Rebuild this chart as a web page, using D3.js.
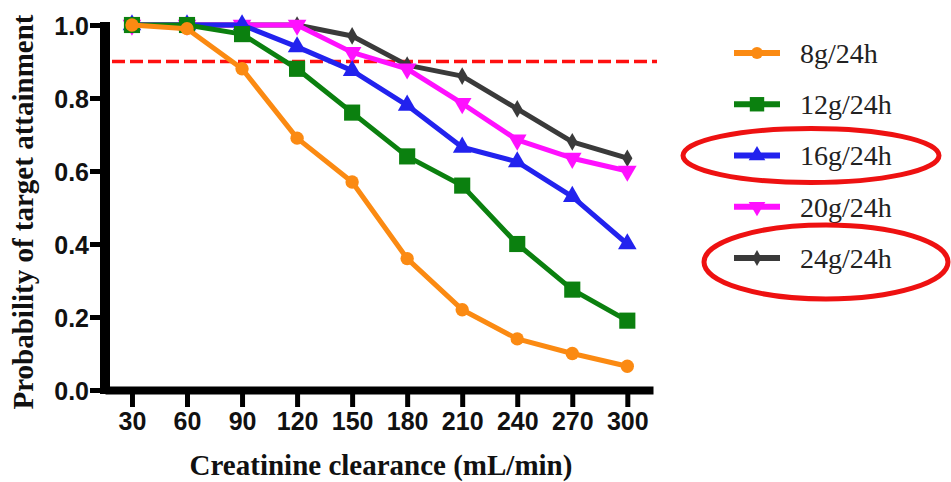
<!DOCTYPE html>
<html>
<head>
<meta charset="utf-8">
<script src="https://cdn.jsdelivr.net/npm/d3@7"></script>
<style>
  html, body { margin: 0; padding: 0; background: #fff; }
  svg { display: block; }
</style>
</head>
<body>
<svg id="chart" width="951" height="482"></svg>
<script>
// Creatinine clearance (mL/min)
const clearance = [30, 60, 90, 120, 150, 180, 210, 240, 270, 300];

// Probability of target attainment per dosing regimen
const dose8  = [1.00, 0.99, 0.88, 0.69, 0.57, 0.36, 0.22, 0.14, 0.10, 0.065];
const dose12 = [1.00, 1.00, 0.975, 0.88, 0.76, 0.64, 0.56, 0.40, 0.275, 0.19];
const dose16 = [1.00, 1.00, 1.00, 0.94, 0.875, 0.78, 0.665, 0.625, 0.53, 0.40];
const dose20 = [1.00, 1.00, 1.00, 1.00, 0.925, 0.88, 0.785, 0.685, 0.635, 0.60];
const dose24 = [1.00, 1.00, 1.00, 1.00, 0.97, 0.89, 0.86, 0.77, 0.68, 0.635];

const seriesNames = ["8g/24h", "12g/24h", "16g/24h", "20g/24h", "24g/24h"];
const yTicks = [0.0, 0.2, 0.4, 0.6, 0.8, 1.0];
const targetLevel = 0.9;
const highlighted = ["16g/24h", "24g/24h"];

const seriesValues = [dose8, dose12, dose16, dose20, dose24];
const colors = ["#fb8a12", "#0b800f", "#2222ee", "#ff10ff", "#3a3a3a"];
const symbols = [d3.symbolCircle, d3.symbolSquare, d3.symbolTriangle, d3.symbolTriangle, d3.symbolDiamond];
const rotations = [0, 0, 0, 180, 0];
const symbolSizes = [140, 260, 150, 150, 90];

const svg = d3.select("#chart");

const x = d3.scaleLinear().domain([15.3, 314]).range([105, 653]);
const y = d3.scaleLinear().domain([0, 1]).range([390, 25]);

// Axes
const axisFont = "'Liberation Sans', Arial, sans-serif";

const yAxis = svg.append("g")
  .attr("transform", "translate(105,0)")
  .call(d3.axisLeft(y).tickValues(yTicks).tickFormat(d3.format(".1f")).tickSize(15).tickSizeOuter(0));
const xAxis = svg.append("g")
  .attr("transform", "translate(0,390)")
  .call(d3.axisBottom(x).tickValues(clearance).tickFormat(d3.format("d")).tickSize(17).tickSizeOuter(0));

yAxis.select(".domain").attr("stroke", "#000").attr("stroke-width", 10)
  .attr("d", `M0,${y(1) - 3}V${y(0) + 4}`);
xAxis.select(".domain").attr("stroke", "#000").attr("stroke-width", 8);
[yAxis, xAxis].forEach(g => {
  g.selectAll(".tick line").attr("stroke", "#000").attr("stroke-width", 5);
  g.selectAll(".tick text")
    .attr("fill", "#111")
    .style("font-family", axisFont)
    .style("font-weight", "bold")
    .style("font-size", "25px");
});
yAxis.selectAll(".tick text").attr("x", -16).attr("dy", "0.36em");
xAxis.selectAll(".tick text").attr("y", 22).attr("dy", "0.71em");

// Target attainment threshold
svg.append("line")
  .attr("x1", 112).attr("x2", 657)
  .attr("y1", y(targetLevel)).attr("y2", y(targetLevel))
  .attr("stroke", "#ff1010")
  .attr("stroke-width", 3.5)
  .attr("stroke-dasharray", "13,5");

// Series lines and markers; lower doses are drawn on top
const line = d3.line()
  .x((d, i) => x(clearance[i]))
  .y(d => y(d));

d3.range(seriesValues.length).reverse().forEach(s => {
  const vals = seriesValues[s];
  const g = svg.append("g");
  g.append("path")
    .datum(vals)
    .attr("d", line)
    .attr("fill", "none")
    .attr("stroke", colors[s])
    .attr("stroke-width", 5)
    .attr("stroke-linejoin", "round");
  g.selectAll("path.pt")
    .data(vals)
    .join("path")
    .attr("class", "pt")
    .attr("d", d3.symbol().type(symbols[s]).size(symbolSizes[s]))
    .attr("transform", (d, i) => `translate(${x(clearance[i])},${y(d)}) rotate(${rotations[s]})`)
    .attr("fill", colors[s]);
});

// Axis titles
const titleFont = "'Liberation Serif', 'Times New Roman', serif";
svg.append("text")
  .attr("transform", "translate(33,212) rotate(-90)")
  .attr("text-anchor", "middle")
  .style("font-family", titleFont)
  .style("font-weight", "bold")
  .style("font-size", "29px")
  .attr("fill", "#111")
  .text("Probability of target attainment");

svg.append("text")
  .attr("x", 381).attr("y", 475)
  .attr("text-anchor", "middle")
  .style("font-family", titleFont)
  .style("font-weight", "bold")
  .style("font-size", "29px")
  .attr("fill", "#111")
  .text("Creatinine clearance (mL/min)");

// Legend
const legendY = d3.scalePoint().domain(seriesNames).range([53, 258]);
const legend = svg.append("g");
seriesNames.forEach((name, s) => {
  const ly = legendY(name);
  legend.append("line")
    .attr("x1", 734).attr("x2", 780)
    .attr("y1", ly).attr("y2", ly)
    .attr("stroke", colors[s]).attr("stroke-width", 6);
  legend.append("path")
    .attr("d", d3.symbol().type(symbols[s]).size(symbolSizes[s] * 0.8))
    .attr("transform", `translate(757,${ly}) rotate(${rotations[s]})`)
    .attr("fill", colors[s]);
  legend.append("text")
    .attr("x", 800).attr("y", ly)
    .attr("dy", "0.35em")
    .style("font-family", titleFont)
    .style("font-size", "28px")
    .attr("fill", "#222")
    .text(name);
});

// Emphasis rings around selected regimens
const rings = { "16g/24h": { cx: 811, rx: 128, ry: 27, dy: 0 }, "24g/24h": { cx: 826, rx: 122, ry: 37, dy: 4 } };
highlighted.forEach(name => {
  const r = rings[name];
  svg.append("ellipse")
    .attr("cx", r.cx).attr("cy", legendY(name) + r.dy)
    .attr("rx", r.rx).attr("ry", r.ry)
    .attr("fill", "none")
    .attr("stroke", "#ee1111")
    .attr("stroke-width", 5);
});
</script>
</body>
</html>
